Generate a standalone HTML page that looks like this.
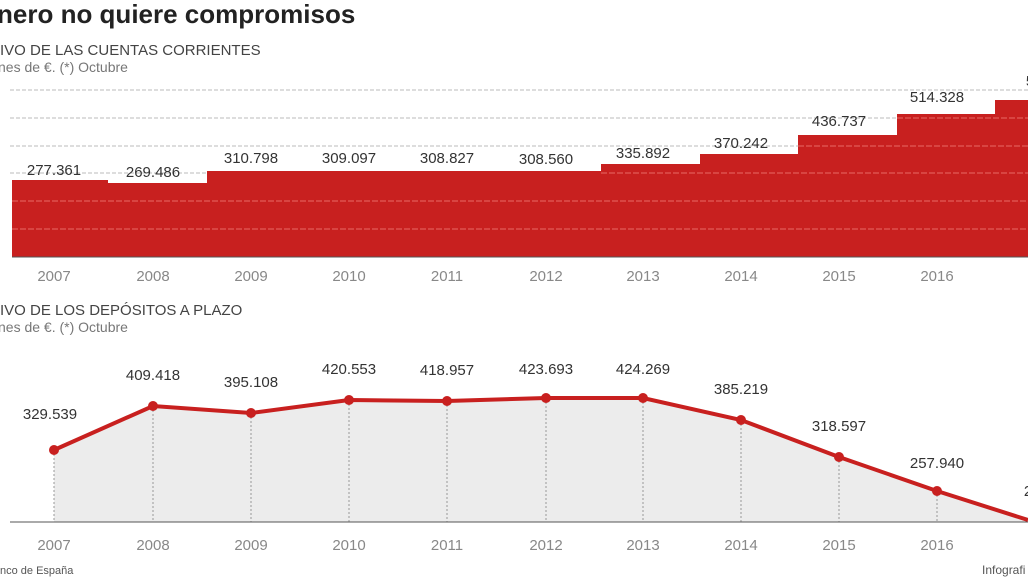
<!DOCTYPE html>
<html><head><meta charset="utf-8"><style>
body{margin:0;width:1028px;height:578px;overflow:hidden;background:#fff;font-family:"Liberation Sans",sans-serif}
</style></head><body>
<svg width="1028" height="578" xmlns="http://www.w3.org/2000/svg" font-family="Liberation Sans, sans-serif">
<text x="-3" y="23" font-size="26" font-weight="bold" fill="#222">nero no quiere compromisos</text>
<text x="0" y="55" font-size="15" fill="#444">IVO DE LAS CUENTAS CORRIENTES</text>
<text x="-2" y="72" font-size="14" fill="#777">nes de €. (*) Octubre</text>
<g stroke="#bbb" stroke-dasharray="4,2" stroke-width="1">
<line x1="10" y1="90" x2="1028" y2="90"/><line x1="10" y1="118" x2="1028" y2="118"/><line x1="10" y1="146" x2="1028" y2="146"/><line x1="10" y1="173" x2="1028" y2="173"/>
</g>
<path d="M12 257 V180 H108 V183 H207 V171 H601 V164 H700 V154 H798 V135 H897 V114 H995 V100 H1028 V257 Z" fill="#c8201f"/>
<g stroke="#e86a66" stroke-dasharray="6,2" stroke-width="1">
<line x1="12" y1="201" x2="1028" y2="201"/><line x1="12" y1="229" x2="1028" y2="229"/><line x1="601" y1="173" x2="1028" y2="173"/><line x1="798" y1="146" x2="1028" y2="146"/><line x1="897" y1="118" x2="1028" y2="118"/>
</g>
<line x1="12" y1="257" x2="1028" y2="257" stroke="#555"/>
<g font-size="15" fill="#333" text-anchor="middle">
<text x="54" y="175">277.361</text><text x="153" y="177">269.486</text><text x="251" y="163">310.798</text><text x="349" y="163">309.097</text><text x="447" y="163">308.827</text><text x="546" y="164">308.560</text><text x="643" y="158">335.892</text><text x="741" y="148">370.242</text><text x="839" y="126">436.737</text><text x="937" y="102">514.328</text><text x="1030" y="86">5</text>
</g>
<g font-size="15" fill="#888" text-anchor="middle">
<text x="54" y="281">2007</text><text x="153" y="281">2008</text><text x="251" y="281">2009</text><text x="349" y="281">2010</text><text x="447" y="281">2011</text><text x="546" y="281">2012</text><text x="643" y="281">2013</text><text x="741" y="281">2014</text><text x="839" y="281">2015</text><text x="937" y="281">2016</text>
</g>
<text x="0" y="315" font-size="15" fill="#444">IVO DE LOS DEPÓSITOS A PLAZO</text>
<text x="-2" y="332" font-size="14" fill="#777">nes de €. (*) Octubre</text>
<path d="M54 450 L153 406 L251 413 L349 400 L447 401 L546 398 L643 398 L741 420 L839 457 L937 491 L1028 520 V522 H54 Z" fill="#ececec"/>
<g stroke="#999" stroke-dasharray="2,2">
<line x1="54" y1="450" x2="54" y2="522"/><line x1="153" y1="406" x2="153" y2="522"/><line x1="251" y1="413" x2="251" y2="522"/><line x1="349" y1="400" x2="349" y2="522"/><line x1="447" y1="401" x2="447" y2="522"/><line x1="546" y1="398" x2="546" y2="522"/><line x1="643" y1="398" x2="643" y2="522"/><line x1="741" y1="420" x2="741" y2="522"/><line x1="839" y1="457" x2="839" y2="522"/><line x1="937" y1="491" x2="937" y2="522"/>
</g>
<line x1="10" y1="522" x2="1028" y2="522" stroke="#555"/>
<polyline points="54,450 153,406 251,413 349,400 447,401 546,398 643,398 741,420 839,457 937,491 1028,520" fill="none" stroke="#c8201f" stroke-width="4"/>
<g fill="#c8201f">
<circle cx="54" cy="450" r="5"/><circle cx="153" cy="406" r="5"/><circle cx="251" cy="413" r="5"/><circle cx="349" cy="400" r="5"/><circle cx="447" cy="401" r="5"/><circle cx="546" cy="398" r="5"/><circle cx="643" cy="398" r="5"/><circle cx="741" cy="420" r="5"/><circle cx="839" cy="457" r="5"/><circle cx="937" cy="491" r="5"/>
</g>
<g font-size="15" fill="#333" text-anchor="middle">
<text x="50" y="419">329.539</text><text x="153" y="380">409.418</text><text x="251" y="387">395.108</text><text x="349" y="374">420.553</text><text x="447" y="375">418.957</text><text x="546" y="374">423.693</text><text x="643" y="374">424.269</text><text x="741" y="394">385.219</text><text x="839" y="431">318.597</text><text x="937" y="468">257.940</text><text x="1028" y="496">2</text>
</g>
<g font-size="15" fill="#888" text-anchor="middle">
<text x="54" y="550">2007</text><text x="153" y="550">2008</text><text x="251" y="550">2009</text><text x="349" y="550">2010</text><text x="447" y="550">2011</text><text x="546" y="550">2012</text><text x="643" y="550">2013</text><text x="741" y="550">2014</text><text x="839" y="550">2015</text><text x="937" y="550">2016</text>
</g>
<text x="0" y="574" font-size="11" fill="#555">nco de España</text>
<text x="982" y="574" font-size="12" fill="#555">Infografi</text>
</svg>
</body></html>
